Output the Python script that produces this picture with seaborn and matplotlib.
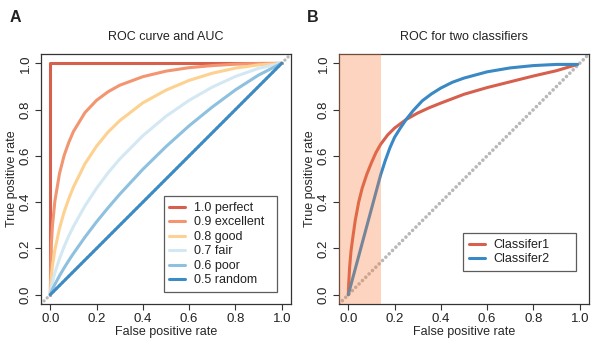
import matplotlib
matplotlib.use("Agg")
import matplotlib.pyplot as plt
import seaborn as sns
import pandas as pd

sns.set_style("white")
plt.rcParams["font.family"] = ["Liberation Sans", "DejaVu Sans"]
plt.rcParams["text.color"] = "#222222"

# ---- Panel A: ROC curves for different AUC levels ----
fpr_grid = [0.0, 0.005, 0.01, 0.02, 0.04, 0.06, 0.08, 0.1, 0.15, 0.2, 0.25,
            0.3, 0.4, 0.5, 0.6, 0.7, 0.8, 0.9, 1.0]
tpr_excellent = [0.0, 0.223, 0.304, 0.405, 0.524, 0.602, 0.658, 0.705, 0.787,
                 0.840, 0.877, 0.905, 0.942, 0.966, 0.981, 0.990, 0.996, 0.999, 1.0]
tpr_good = [0.0, 0.083, 0.128, 0.194, 0.287, 0.358, 0.415, 0.465, 0.566,
            0.642, 0.703, 0.752, 0.829, 0.884, 0.926, 0.957, 0.979, 0.993, 1.0]
tpr_fair = [0.0, 0.033, 0.057, 0.095, 0.156, 0.208, 0.254, 0.295, 0.384,
            0.460, 0.527, 0.586, 0.687, 0.771, 0.840, 0.897, 0.943, 0.978, 1.0]
tpr_poor = [0.0, 0.013, 0.025, 0.045, 0.082, 0.116, 0.148, 0.178, 0.249,
            0.315, 0.376, 0.434, 0.542, 0.640, 0.730, 0.811, 0.885, 0.949, 1.0]
fpr_perfect = [0.0, 0.0, 1.0]
tpr_perfect = [0.0, 1.0, 1.0]
fpr_random = [0.0, 1.0]
tpr_random = [0.0, 1.0]

auc_labels = ["1.0 perfect", "0.9 excellent", "0.8 good", "0.7 fair",
              "0.6 poor", "0.5 random"]
auc_colors = ["#D6604D", "#F29570", "#FDD190", "#D4E8F4", "#8EC0E0", "#3D8BC4"]

# ---- Panel B: two classifiers ----
fpr_c1 = [0.0, 0.002, 0.006, 0.012, 0.02, 0.03, 0.045, 0.06, 0.08, 0.10,
          0.12, 0.14, 0.17, 0.20, 0.25, 0.30, 0.35, 0.40, 0.50, 0.60, 0.70,
          0.80, 0.90, 0.99]
tpr_c1 = [0.0, 0.05, 0.12, 0.19, 0.25, 0.32, 0.40, 0.46, 0.52, 0.57,
          0.615, 0.65, 0.69, 0.72, 0.757, 0.785, 0.808, 0.828, 0.866, 0.895,
          0.92, 0.945, 0.968, 0.995]
fpr_c2 = [0.0, 0.14, 0.16, 0.18, 0.20, 0.225, 0.25, 0.28, 0.32, 0.36, 0.40,
          0.45, 0.50, 0.60, 0.70, 0.80, 0.90, 0.99]
tpr_c2 = [0.0, 0.518, 0.58, 0.635, 0.68, 0.72, 0.757, 0.795, 0.838, 0.868,
          0.893, 0.918, 0.936, 0.963, 0.98, 0.99, 0.995, 0.995]
shade_fpr_max = 0.14

clf_labels = ["Classifer1", "Classifer2"]
clf_colors = ["#D6604D", "#3A88C4"]

diag = [-0.04, 1.04]

df_a = pd.concat([
    pd.DataFrame({"fpr": fpr_perfect, "tpr": tpr_perfect, "curve": auc_labels[0]}),
    pd.DataFrame({"fpr": fpr_grid, "tpr": tpr_excellent, "curve": auc_labels[1]}),
    pd.DataFrame({"fpr": fpr_grid, "tpr": tpr_good, "curve": auc_labels[2]}),
    pd.DataFrame({"fpr": fpr_grid, "tpr": tpr_fair, "curve": auc_labels[3]}),
    pd.DataFrame({"fpr": fpr_grid, "tpr": tpr_poor, "curve": auc_labels[4]}),
    pd.DataFrame({"fpr": fpr_random, "tpr": tpr_random, "curve": auc_labels[5]}),
], ignore_index=True)

df_b = pd.concat([
    pd.DataFrame({"fpr": fpr_c1, "tpr": tpr_c1, "curve": clf_labels[0]}),
    pd.DataFrame({"fpr": fpr_c2, "tpr": tpr_c2, "curve": clf_labels[1]}),
], ignore_index=True)

W, H = 597, 341
fig = plt.figure(figsize=(W / 100, H / 100), dpi=100)
ax_a = fig.add_axes([41 / W, 1 - 304 / H, 250 / W, 250 / H])
ax_b = fig.add_axes([339 / W, 1 - 304 / H, 250 / W, 250 / H])

LW = 2.2
FS = 9
DOTS = (0, (0.01, 1.3))


def style_axes(ax, title):
    ax.set_xlim(-0.04, 1.04)
    ax.set_ylim(-0.04, 1.04)
    ticks = [0.0, 0.2, 0.4, 0.6, 0.8, 1.0]
    ax.set_xticks(ticks)
    ax.set_yticks(ticks)
    ax.set_xticklabels([f"{t:.1f}" for t in ticks], fontsize=FS + 0.5,
                       color="#222222")
    ax.set_yticklabels([f"{t:.1f}" for t in ticks], fontsize=FS + 0.5,
                       rotation=90, va="center", color="#222222")
    ax.tick_params(axis="both", which="both", direction="out", length=4,
                   width=0.8, color="#333333", pad=2.5, bottom=True, left=True)
    for s in ax.spines.values():
        s.set_visible(True)
        s.set_color("#333333")
        s.set_linewidth(0.9)
    ax.set_xlabel("False positive rate", fontsize=FS, labelpad=1)
    ax.set_ylabel("True positive rate", fontsize=FS)
    ax.yaxis.set_label_coords(-0.092, 0.5)
    ax.set_title(title, fontsize=FS, pad=10)


def place_legend(ax, x0, y0):
    h, l = ax.get_legend_handles_labels()
    leg = ax.legend(h, l, loc="lower left", bbox_to_anchor=(x0, y0, 0.452, 0.1),
                    mode="expand", borderaxespad=0, fontsize=FS, frameon=True,
                    fancybox=False, handlelength=1.3, handletextpad=0.7,
                    labelspacing=0.2, borderpad=0.45, edgecolor="#333333")
    leg.get_frame().set_linewidth(0.9)


# Panel A
ax_a.plot(diag, diag, color="#B8B8B8", lw=LW + 0.2, ls=DOTS,
          dash_capstyle="round", zorder=1)
sns.lineplot(data=df_a, x="fpr", y="tpr", hue="curve", hue_order=auc_labels,
             palette=auc_colors, sort=False, estimator=None, linewidth=LW,
             ax=ax_a, zorder=2)
style_axes(ax_a, "ROC curve and AUC")
place_legend(ax_a, 0.49, 0.048)

# Panel B
ax_b.plot(diag, diag, color="#B8B8B8", lw=LW + 0.4, ls=DOTS,
          dash_capstyle="round", zorder=1)
sns.lineplot(data=df_b, x="fpr", y="tpr", hue="curve", hue_order=clf_labels,
             palette=clf_colors, sort=False, estimator=None, linewidth=LW,
             ax=ax_b, zorder=2)
# translucent band over the low-FPR region
ax_b.axvspan(-0.04, shade_fpr_max, color="#F67F40", alpha=0.33, lw=0, zorder=3)
style_axes(ax_b, "ROC for two classifiers")
place_legend(ax_b, 0.496, 0.132)

fig.text(10 / W, 1 - 18 / H, "A", fontsize=11.5, fontweight="bold", va="center")
fig.text(307 / W, 1 - 18 / H, "B", fontsize=11.5, fontweight="bold", va="center")

fig.savefig("out.png", dpi=100)
